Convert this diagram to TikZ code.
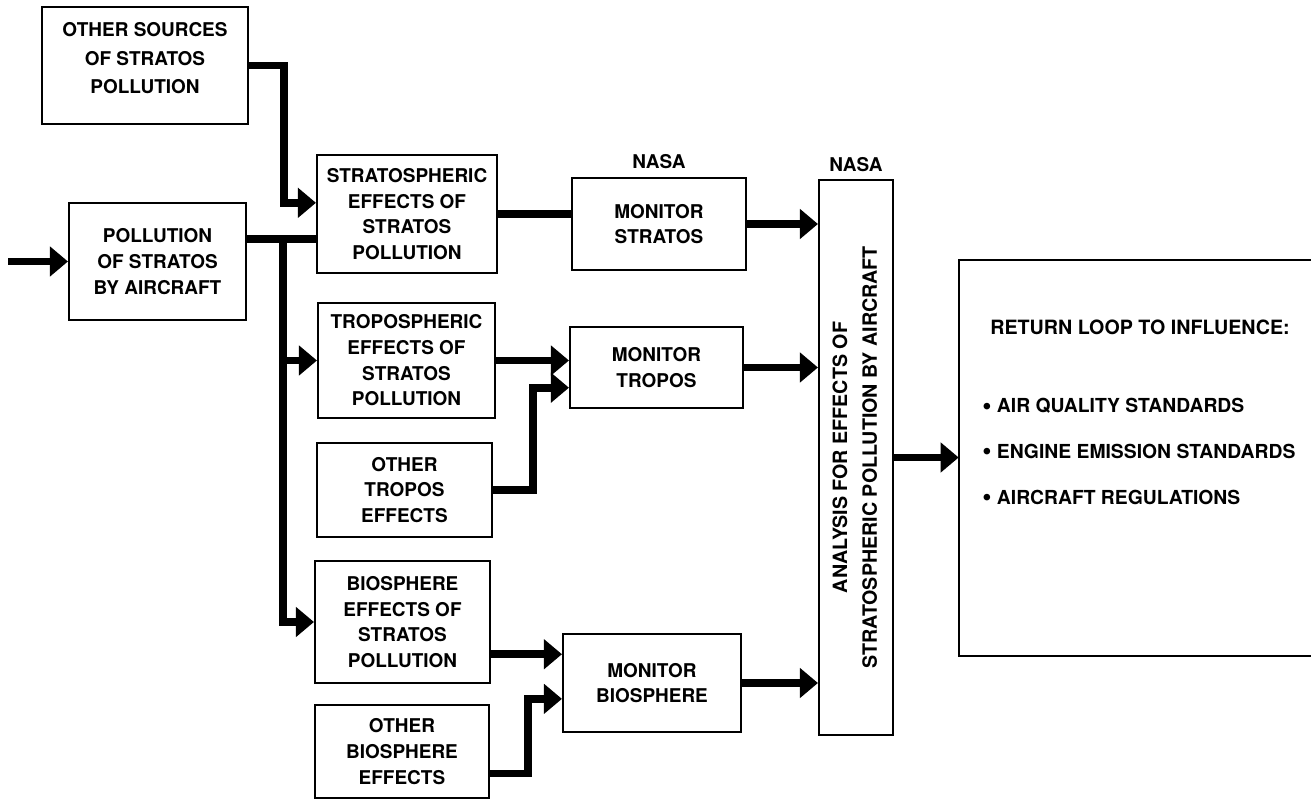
\documentclass[tikz,border=0pt]{standalone}
\usepackage{fontspec}
\setmainfont{TeX Gyre Heros}
\usetikzlibrary{arrows.meta,positioning}

\newcommand{\dotmark}{\raisebox{-0.12ex}{\fontsize{15}{15}\selectfont\textbullet}}

\begin{document}
\begin{tikzpicture}[x=0.02cm,y=-0.02cm,line join=miter,
                    font=\bfseries\fontsize{10.8}{14.6}\selectfont]
  \tikzstyle{blk}=[draw=black,line width=1.2pt,align=center,inner sep=0pt]
  \tikzstyle{tag}=[inner sep=0pt]
  \tikzstyle{flow}=[line width=4.5pt]
  \tikzstyle{feed}=[flow,-{Triangle[length=0.36cm,width=0.58cm]}]

  \useasboundingbox (0,0) rectangle (1311,800);

  % sources
  \node[blk,minimum width=4.12cm,minimum height=2.34cm,text depth=0.3cm,
        font=\bfseries\fontsize{10.8}{16.4}\selectfont] (src) at (145,65.5) {OTHER SOURCES\\OF STRATOS\\POLLUTION};
  \node[blk,minimum width=3.54cm,minimum height=2.34cm] (air)   at (157.5,261.5) {POLLUTION\\OF STRATOS\\BY AIRCRAFT};

  % effects
  \node[blk,minimum width=3.6cm,minimum height=2.36cm]  (strat) at (407,214)    {STRATOSPHERIC\\EFFECTS OF\\STRATOS\\POLLUTION};
  \node[blk,minimum width=3.54cm,minimum height=2.3cm]  (trop)  at (406.5,360.5) {TROPOSPHERIC\\EFFECTS OF\\STRATOS\\POLLUTION};
  \node[blk,minimum width=3.5cm,minimum height=1.88cm]  (otrop) at (404.5,490)  {OTHER\\TROPOS\\EFFECTS};
  \node[blk,minimum width=3.5cm,minimum height=2.44cm]  (bio)   at (402.5,622)  {BIOSPHERE\\EFFECTS OF\\STRATOS\\POLLUTION};
  \node[blk,minimum width=3.48cm,minimum height=1.86cm] (obio)  at (402,751.5)  {OTHER\\BIOSPHERE\\EFFECTS};

  % monitors
  \node[blk,minimum width=3.48cm,minimum height=1.84cm] (mstrat) at (659,224)   {MONITOR\\STRATOS};
  \node[blk,minimum width=3.46cm,minimum height=1.62cm] (mtrop)  at (656.5,367.5) {MONITOR\\TROPOS};
  \node[blk,minimum width=3.56cm,minimum height=1.96cm] (mbio)   at (652,683)   {MONITOR\\BIOSPHERE};

  % analysis
  \node[blk,minimum width=1.48cm,minimum height=11.1cm] (anal)   at (856,457.5)
    {\rotatebox{90}{\fontsize{11.2}{17}\selectfont
     \begin{tabular}{@{}c@{}}ANALYSIS FOR EFFECTS OF\\STRATOSPHERIC POLLUTION BY AIRCRAFT\end{tabular}}};

  \node[tag] (nasa1) [above=0.16cm of mstrat] {NASA};
  \node[tag] (nasa2) [above=0.14cm of anal]   {NASA};

  % return loop
  \node[minimum width=7.04cm,minimum height=7.92cm,inner sep=0pt] (loop) at (1135,458) {};
  \draw[line width=1.2pt] (loop.north east) -- (loop.north west) -- (loop.south west) -- (loop.south east);
  \node[tag,font=\bfseries\fontsize{11.2}{14}\selectfont] (rtitle) at (1140,327) {RETURN LOOP TO INFLUENCE:};
  \node[tag,anchor=west,align=left,font=\bfseries\fontsize{11}{26}\selectfont] (rlist) at (982,452)
    {\dotmark\ AIR QUALITY STANDARDS\\\dotmark\ ENGINE EMISSION STANDARDS\\\dotmark\ AIRCRAFT REGULATIONS};

  % connectors
  \coordinate (in) at (8,261.5);
  \draw[feed] (in) -- (air.west);
  \draw[feed] (src.east) -- ++(35,0) |- (strat.173);
  \draw[flow] (air.14) -- (air.14 -| strat.west);
  \path (air.14) -- ++(36,0) coordinate (bus);
  \draw[feed] (bus) |- (bio.west);
  \draw[feed] (bus |- trop.west) -- (trop.west);

  \draw[flow] (strat.east) -- (strat.east -| mstrat.west);
  \draw[feed] (trop.east) -- (trop.east -| mtrop.west);
  \draw[feed] (otrop.east) -- ++(40,0) |- (mtrop.193);
  \draw[feed] (bio.-20) -- (bio.-20 -| mbio.west);
  \draw[feed] (obio.-14) -- ++(38,0) |- (mbio.190);

  \draw[feed] (mstrat.east) -- (mstrat.east -| anal.west);
  \draw[feed] (mtrop.east) -- (mtrop.east -| anal.west);
  \draw[feed] (mbio.east) -- (mbio.east -| anal.west);
  \draw[feed] (anal.east) -- (anal.east -| loop.west);
\end{tikzpicture}
\end{document}
